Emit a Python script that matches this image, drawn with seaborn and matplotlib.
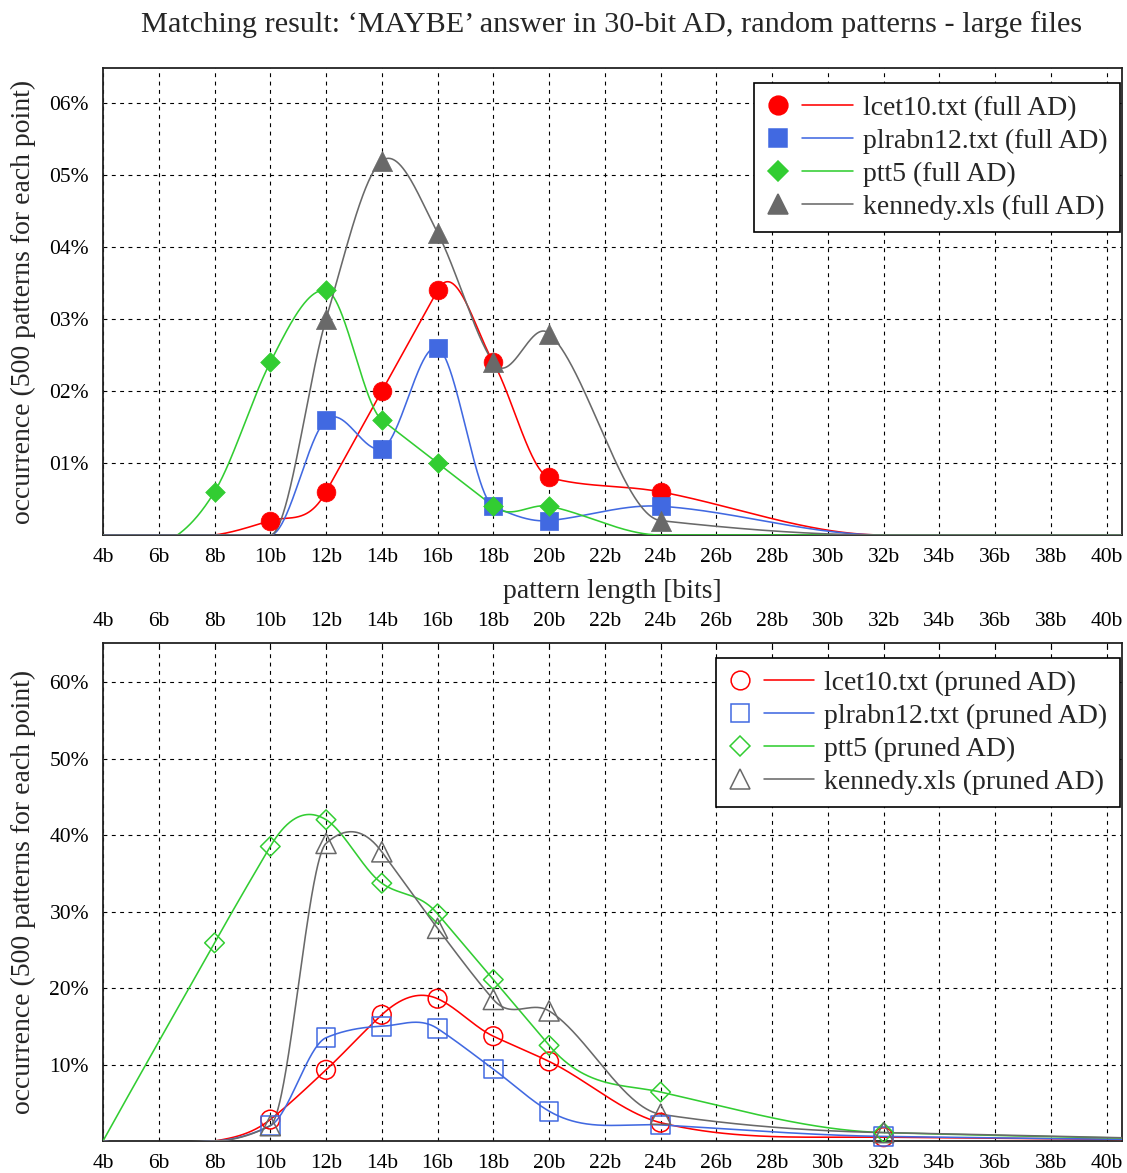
import numpy as np
import pandas as pd
import matplotlib
matplotlib.use("Agg")
import matplotlib.pyplot as plt
import seaborn as sns
from matplotlib.lines import Line2D
from matplotlib.legend_handler import HandlerBase

# ---------------- data ----------------
names = ["lcet10.txt", "plrabn12.txt", "ptt5", "kennedy.xls"]

# measured pattern lengths (bits)
lengths = [4, 8, 10, 12, 14, 16, 18, 20, 24, 32, 48, 64]

# top panel: full AD (values in %)
full_lcet = [0.0, 0.0, 0.002, 0.006, 0.020, 0.034, 0.024, 0.008, 0.006, 0.0, 0.0, 0.0]
full_plr = [0.0, 0.0, 0.0, 0.016, 0.012, 0.026, 0.004, 0.002, 0.004, 0.0, 0.0, 0.0]
full_ptt = [0.0, 0.006, 0.024, 0.034, 0.016, 0.010, 0.004, 0.004, 0.0, 0.0, 0.0, 0.0]
full_ken = [0.0, 0.0, 0.0, 0.030, 0.052, 0.042, 0.024, 0.028, 0.002, 0.0, 0.0, 0.0]

# bottom panel: pruned AD (values in %)
pr_lcet = [0.0, 0.0, 2.8, 9.3, 16.5, 18.6, 13.7, 10.4, 2.4, 0.5, 0.05, 0.0]
pr_plr = [0.0, 0.0, 2.0, 13.5, 15.0, 14.7, 9.4, 3.9, 2.1, 0.6, 0.05, 0.0]
pr_ptt = [0.0, 25.9, 38.5, 42.0, 33.7, 29.7, 21.1, 12.5, 6.4, 1.1, 0.1, 0.0]
pr_ken = [0.0, 0.0, 2.0, 38.9, 37.8, 27.8, 18.5, 17.0, 3.5, 1.1, 0.05, 0.0]

x_ticks = list(range(4, 41, 2))
x_tick_labels = [f"{v}b" for v in x_ticks]
top_y_ticks = [0.01, 0.02, 0.03, 0.04, 0.05, 0.06]
top_y_labels = ["01%", "02%", "03%", "04%", "05%", "06%"]
bot_y_ticks = [10, 20, 30, 40, 50, 60]
bot_y_labels = ["10%", "20%", "30%", "40%", "50%", "60%"]

colors = ["#ff0000", "#4169e1", "#32cd32", "#696969"]
markers = ["o", "s", "D", "^"]
msizes = [13.5, 13.5, 10.0, 14.5]

title = "Matching result: \u2018MAYBE\u2019 answer in 30-bit AD, random patterns - large files"
ylabel = "occurrence (500 patterns for each point)"
xlabel = "pattern length [bits]"


def akima(x, y, xs):
    x = np.asarray(x, float)
    y = np.asarray(y, float)
    n = len(x)
    m = np.diff(y) / np.diff(x)
    me = np.empty(n + 3)
    me[2:n + 1] = m
    me[1] = 2 * me[2] - me[3]
    me[0] = 2 * me[1] - me[2]
    me[n + 1] = 2 * me[n] - me[n - 1]
    me[n + 2] = 2 * me[n + 1] - me[n]
    t = np.empty(n)
    for i in range(n):
        w1 = abs(me[i + 3] - me[i + 2])
        w2 = abs(me[i + 1] - me[i])
        if w1 + w2 > 1e-12:
            t[i] = (w1 * me[i + 1] + w2 * me[i + 2]) / (w1 + w2)
        else:
            t[i] = 0.5 * (me[i + 1] + me[i + 2])
    idx = np.clip(np.searchsorted(x, xs) - 1, 0, n - 2)
    h = x[idx + 1] - x[idx]
    s = (xs - x[idx]) / h
    h00 = 2 * s ** 3 - 3 * s ** 2 + 1
    h10 = s ** 3 - 2 * s ** 2 + s
    h01 = -2 * s ** 3 + 3 * s ** 2
    h11 = s ** 3 - s ** 2
    return h00 * y[idx] + h10 * h * t[idx] + h01 * y[idx + 1] + h11 * h * t[idx + 1]


class MarkerLineHandler(HandlerBase):
    """Legend key drawn as: marker, then a short line sample (gnuplot style)."""

    def create_artists(self, legend, orig_handle, xdescent, ydescent,
                       width, height, fontsize, trans):
        mh, lh = orig_handle
        y = height / 2 - ydescent
        x0 = -xdescent
        line = Line2D([x0 + 0.41 * width, x0 + width], [y, y],
                      color=lh.get_color(), lw=lh.get_linewidth(),
                      transform=trans)
        mk = Line2D([x0 + 0.134 * width], [y], ls="none",
                    marker=mh.get_marker(), ms=mh.get_markersize(),
                    mfc=mh.get_markerfacecolor(), mec=mh.get_markeredgecolor(),
                    mew=mh.get_markeredgewidth(), transform=trans)
        return [line, mk]


# ---------------- figure ----------------
sns.set_theme(style="white")
plt.rcParams["font.family"] = ["Liberation Serif", "DejaVu Serif"]

fig = plt.figure(figsize=(11.27, 11.73), dpi=100)
ax1 = fig.add_axes([103 / 1127, 1 - 535 / 1173, 1019 / 1127, 467 / 1173])
ax2 = fig.add_axes([103 / 1127, 1 - 1141 / 1173, 1019 / 1127, 498 / 1173])

grid_kw = dict(color="black", linewidth=0.8, linestyle=(0, (3.5, 4)))


def draw_panel(ax, series, filled):
    handles = []
    for yv, c, m, ms in zip(series, colors, markers, msizes):
        xs = np.linspace(lengths[0], lengths[-1], 3000)
        ys = akima(lengths, yv, xs)
        sns.lineplot(x=xs, y=ys, ax=ax, color=c, linewidth=1.15,
                     estimator=None, sort=False, zorder=3)
        pts = pd.DataFrame({"x": lengths, "y": yv})
        pts = pts[(pts["y"] > 0) & (pts["x"] <= 40)]
        sns.scatterplot(data=pts, x="x", y="y", ax=ax, marker=m, s=ms ** 2,
                        color=c, edgecolor=c, linewidth=1.1 if not filled else 0.5,
                        zorder=4, legend=False)
        coll = ax.collections[-1]
        if not filled:
            coll.set_facecolor("none")
            coll.set_edgecolor(c)
        coll.set_clip_on(False)
        mh = Line2D([], [], marker=m, ls="none", ms=ms, color=c,
                    mfc=c if filled else "none", mec=c, mew=1.1)
        lh = Line2D([], [], color=c, lw=1.15)
        handles.append((mh, lh))
    ax.set_xlim(4, 40.55)
    ax.set_xticks(x_ticks)
    ax.set_xticklabels(x_tick_labels)
    ax.grid(True, **grid_kw)
    ax.set_axisbelow(True)
    for sp in ax.spines.values():
        sp.set_color("#222222")
        sp.set_linewidth(1.3)
    ax.tick_params(axis="both", direction="in", length=4, width=0.8,
                   labelsize=15.5, colors="black")
    ax.tick_params(axis="y", pad=10)
    ax.tick_params(axis="x", pad=9)
    ax.set_ylabel(ylabel, fontsize=20, labelpad=10)
    ax.set_xlabel("")
    return handles


h1 = draw_panel(ax1, [full_lcet, full_plr, full_ptt, full_ken], True)
ax1.set_ylim(0, 0.0649)
ax1.set_yticks(top_y_ticks)
ax1.set_yticklabels(top_y_labels)
ax1.set_xlabel(xlabel, fontsize=20, labelpad=9)

h2 = draw_panel(ax2, [pr_lcet, pr_plr, pr_ptt, pr_ken], False)
ax2.set_ylim(0, 65.1)
ax2.set_yticks(bot_y_ticks)
ax2.set_yticklabels(bot_y_labels)
ax2.tick_params(axis="x", top=True, labeltop=True, labelbottom=True)

leg_kw = dict(loc="upper right", frameon=True, fancybox=False, framealpha=1,
              edgecolor="black", fontsize=20, handlelength=3.1,
              handler_map={tuple: MarkerLineHandler()},
              borderaxespad=0, labelspacing=0.27, borderpad=0.45,
              handletextpad=0.36)
leg1 = ax1.legend(h1, [f"{n} (full AD)" for n in names],
                  bbox_to_anchor=(0.998, 0.968), **leg_kw)
leg2 = ax2.legend(h2, [f"{n} (pruned AD)" for n in names],
                  bbox_to_anchor=(0.998, 0.970), **leg_kw)
for leg in (leg1, leg2):
    leg.get_frame().set_linewidth(1.2)
    leg.set_zorder(10)

fig.text(612 / 1127, 1 - 25 / 1173, title, ha="center", va="center", fontsize=21.8)

fig.savefig("out.png", dpi=100)
